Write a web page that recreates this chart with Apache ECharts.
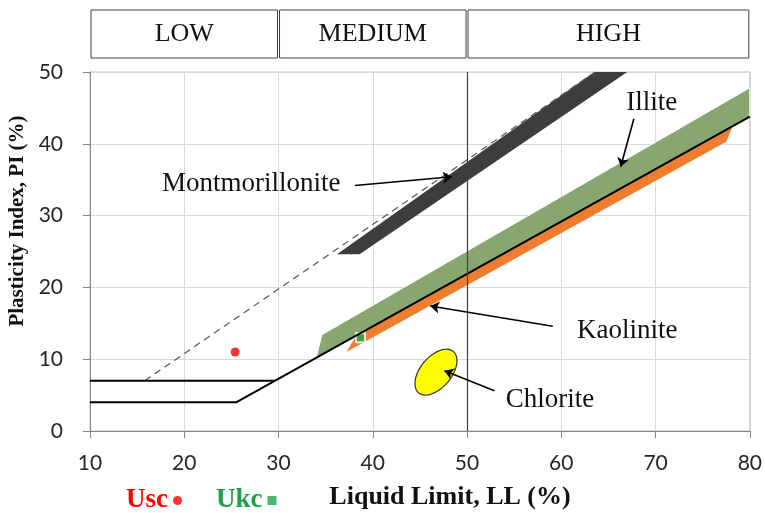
<!DOCTYPE html>
<html>
<head>
<meta charset="utf-8">
<script src="https://cdn.jsdelivr.net/npm/echarts@6/dist/echarts.min.js"></script>
<style>
html, body { margin: 0; padding: 0; background: #fff; }
#chart { width: 765px; height: 513px; }
</style>
</head>
<body>
<div id="chart"></div>
<script>
// plasticity zones (LL from, LL to, name)
var zones = [[10, 30, 'LOW'], [30, 50, 'MEDIUM'], [50, 80, 'HIGH']];
// A-line with its two horizontal legs, U-line (dashed)
var aLine = [[10, 4], [25.5, 4], [80, 43.8]];
var aLineUpper = [[10, 7], [29.6, 7]];
var uLine = [[15.8, 7], [63.6, 50]];
// mineral zones, [LL, PI] vertices
var montmorillonite = [[36.2, 24.6], [63.5, 50], [67, 50], [38.6, 24.6]];
var illite = [[34, 10.2], [34.6, 13.4], [80, 47.8], [80, 43.8]];
var kaolinite = [[37.2, 11], [38.3, 13.4], [78.2, 42.5], [77.5, 40.3]];
var chlorite = [[46.7, 8.2]];
// samples
var usc = [[25.4, 11]];
var ukc = [[38.7, 13]];
// annotations
var notes = [[27.1, 34.4, 'Montmorillonite'], [69.6, 45.7, 'Illite'], [67, 13.9, 'Kaolinite'], [58.8, 4.3, 'Chlorite']];
var arrows = [
  [[38.1, 34.2], [48.4, 35.4]],
  [[67.7, 43.5], [66.3, 36.8]],
  [[59.1, 14.6], [46.1, 17.4]],
  [[52.9, 5.6], [47.6, 8.4]]
];

var serif = '"Liberation Serif", "DejaVu Serif", serif';

function band(name, pts, style) { //polygon zone through the axes
  return {
    type: 'custom', name: name, silent: true,
    data: [pts[0]],
    renderItem: function(params, api) {
      return {
        type: 'polygon',
        shape: { points: pts.map(function(p) { return api.coord(p); }) },
        style: style
      };
    }
  };
}

var chart = echarts.init(document.getElementById('chart'));
chart.setOption({
  animation: false,
  grid: { left: 90, right: 15, top: 72, bottom: 82, show: true, borderColor: '#bfbfbf', borderWidth: 1 },
  xAxis: {
    type: 'value', min: 10, max: 80, interval: 10,
    axisLine: { lineStyle: { color: '#868686' } },
    axisTick: { show: true, length: 7, lineStyle: { color: '#868686' } },
    axisLabel: { color: '#262626', fontFamily: 'Lato', fontSize: 21, margin: 22 },
    splitLine: { lineStyle: { color: '#d9d9d9' } }
  },
  yAxis: {
    type: 'value', min: 0, max: 50, interval: 10,
    axisLine: { show: true, lineStyle: { color: '#868686' } },
    axisTick: { show: true, length: 7, lineStyle: { color: '#868686' } },
    axisLabel: { color: '#262626', fontFamily: 'Lato', fontSize: 21, margin: 27 },
    splitLine: { lineStyle: { color: '#d9d9d9' } }
  },
  legend: {
    left: 121, top: 482, align: 'right', itemWidth: 9, itemHeight: 9, itemGap: 34,
    textStyle: { fontFamily: serif, fontWeight: 'bold', fontSize: 27 },
    data: [
      { name: 'Usc', textStyle: { color: '#ff0000' } },
      { name: 'Ukc', textStyle: { color: '#1f9f4a' }, itemStyle: { borderWidth: 0 } }
    ]
  },
  graphic: [
    {
      type: 'text', x: 18, y: 221, rotation: Math.PI / 2,
      style: { text: 'Plasticity Index, PI (%)', align: 'center', verticalAlign: 'middle',
        fontFamily: serif, fontWeight: 'bold', fontSize: 21, fill: '#111' }
    },
    {
      type: 'text', x: 450, y: 497,
      style: { text: 'Liquid Limit, LL (%)', align: 'center', verticalAlign: 'middle',
        fontFamily: serif, fontWeight: 'bold', fontSize: 26, fill: '#111' }
    }
  ],
  series: [
    {
      type: 'custom', name: 'zones', silent: true,
      data: zones.map(function(z) { return [z[0], z[1]]; }),
      encode: { x: [0, 1] },
      renderItem: function(params, api) {
        var x0 = api.coord([api.value(0), 0])[0];
        var x1 = api.coord([api.value(1), 0])[0];
        return {
          type: 'group',
          children: [
            { type: 'rect', shape: { x: x0 + 1, y: 10, width: x1 - x0 - 2, height: 48 },
              style: { fill: '#fff', stroke: '#404040', lineWidth: 1 } },
            { type: 'text', x: (x0 + x1) / 2, y: 34,
              style: { text: zones[params.dataIndex][2], align: 'center', verticalAlign: 'middle',
                fontFamily: serif, fontSize: 26, fill: '#111' } }
          ]
        };
      }
    },
    {
      type: 'line', name: 'U-line', data: uLine, showSymbol: false, silent: true,
      lineStyle: { color: '#555', width: 1.2, type: [7, 5] },
      markLine: {
        silent: true, symbol: 'none', label: { show: false },
        lineStyle: { color: '#404040', width: 1.2, type: 'solid' },
        data: [{ xAxis: 50 }]
      }
    },
    band('Montmorillonite', montmorillonite, { fill: '#3d3d3d' }),
    band('Illite', illite, { fill: '#88a66f', stroke: '#fff', lineWidth: 1 }),
    band('Kaolinite', kaolinite, { fill: '#ed7d31' }),
    {
      type: 'custom', name: 'Chlorite', silent: true, data: chlorite,
      renderItem: function(params, api) {
        var c = api.coord([api.value(0), api.value(1)]);
        var a = 27, b = 15.5, t = 50 * Math.PI / 180, pts = [];
        for (var i = 0; i < 48; i++) {
          var f = i / 48 * 2 * Math.PI;
          var u = a * Math.cos(f), v = b * Math.sin(f);
          pts.push([c[0] + u * Math.cos(t) + v * Math.sin(t), c[1] - u * Math.sin(t) + v * Math.cos(t)]);
        }
        return { type: 'polygon', shape: { points: pts }, style: { fill: '#ffff00', stroke: '#333', lineWidth: 1.2 } };
      }
    },
    {
      type: 'line', name: 'A-line', data: aLine, showSymbol: false, silent: true,
      lineStyle: { color: '#000', width: 2 },
      markLine: {
        silent: true, symbol: ['none', 'arrow'], symbolSize: 9, label: { show: false },
        lineStyle: { color: '#000', width: 1.6, type: 'solid' },
        data: arrows.map(function(a) { return [{ coord: a[0] }, { coord: a[1] }]; })
      }
    },
    {
      type: 'line', name: 'A-line 2', data: aLineUpper, showSymbol: false, silent: true,
      lineStyle: { color: '#000', width: 2 }
    },
    {
      type: 'scatter', name: 'Usc', data: usc, symbol: 'circle', symbolSize: 9,
      itemStyle: { color: '#ff0000' }
    },
    {
      type: 'scatter', name: 'Ukc', data: ukc, symbol: 'rect', symbolSize: 9,
      itemStyle: { color: '#1fa24c', borderColor: '#fff', borderWidth: 2 }
    },
    {
      type: 'custom', name: 'notes', silent: true,
      data: notes.map(function(n) { return [n[0], n[1]]; }),
      renderItem: function(params, api) {
        var p = api.coord([api.value(0), api.value(1)]);
        return {
          type: 'text', x: p[0], y: p[1],
          style: { text: notes[params.dataIndex][2], align: 'center', verticalAlign: 'middle',
            fontFamily: serif, fontSize: 27, fill: '#111' }
        };
      }
    }
  ]
});
</script>
</body>
</html>
